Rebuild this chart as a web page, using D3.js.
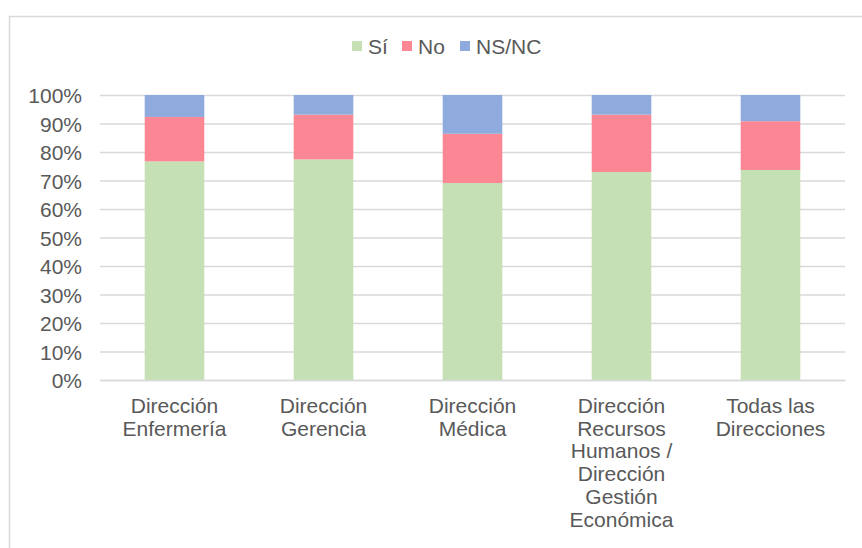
<!DOCTYPE html>
<html><head><meta charset="utf-8">
<script src="https://cdn.jsdelivr.net/npm/d3@7"></script>
<style>
body{margin:0;background:#fff;}
text{font-family:"Liberation Sans",Arial,sans-serif;fill:#595959;}
</style></head>
<body><svg id="c" width="862" height="548"></svg>
<script>
const categories = [
  ["Dirección","Enfermería"],
  ["Dirección","Gerencia"],
  ["Dirección","Médica"],
  ["Dirección","Recursos","Humanos /","Dirección","Gestión","Económica"],
  ["Todas las","Direcciones"]
];
const seriesNames = ["Sí","No","NS/NC"];
const si   = [76.7, 77.4, 69.1, 73.0, 73.7];
const no   = [15.6, 15.7, 17.3, 20.1, 17.1];
const nsnc = [7.7, 6.9, 13.6, 6.9, 9.2];
const yTicks = [0,10,20,30,40,50,60,70,80,90,100];
const colors = ["#C5E0B4","#FA8793","#8FAADC"];

(function(){
const svg = d3.select("#c");
const FS = "21px";
svg.append("rect").attr("x",9.5).attr("y",16.5).attr("width",870).attr("height",560)
  .attr("fill","none").attr("stroke","#D9D9D9").attr("stroke-width",1.5);

const mL=100, mR=845, mT=95, mB=380;
const x = d3.scaleBand().domain(d3.range(categories.length)).range([mL,mR]).paddingInner(0.6).paddingOuter(0.3);
const y = d3.scaleLinear().domain([0,100]).range([mB,mT]);

const yAxis = d3.axisLeft(y).tickValues(yTicks).tickFormat(d=>d+"%").tickSize(-(mR-mL)).tickPadding(18);
const gy = svg.append("g").attr("transform",`translate(${mL},0)`).call(yAxis);
gy.select(".domain").remove();
gy.selectAll(".tick line").attr("stroke","#D9D9D9").attr("stroke-width",1.3);
gy.selectAll(".tick text").attr("font-size",FS).attr("font-family","Liberation Sans, Arial, sans-serif").attr("fill","#595959").attr("dy","0.38em");

const data = categories.map((c,i)=>({i, "Sí":si[i], "No":no[i], "NS/NC":nsnc[i]}));
const stack = d3.stack().keys(seriesNames)(data);
svg.append("g").selectAll("g").data(stack).join("g").attr("fill",(d,k)=>colors[k])
  .selectAll("rect").data(d=>d).join("rect")
  .attr("x",d=>x(d.data.i)).attr("width",x.bandwidth())
  .attr("y",d=>y(d[1])).attr("height",d=>y(d[0])-y(d[1]));

const xAxis = d3.axisBottom(x).tickSize(0).tickFormat("");
const gx = svg.append("g").attr("transform",`translate(0,${mB})`).call(xAxis);
gx.select(".domain").attr("stroke","#D9D9D9").attr("stroke-width",1.3);
gx.selectAll(".tick").each(function(d){
  const t = d3.select(this).append("text").attr("text-anchor","middle").attr("font-size",FS);
  categories[d].forEach((line,j)=>{
    t.append("tspan").attr("x",0).attr("y",33+j*22.7).text(line);
  });
});

const leg = svg.append("g");
const legX = [352, 402, 460];
seriesNames.forEach((n,k)=>{
  leg.append("rect").attr("x",legX[k]).attr("y",41).attr("width",10).attr("height",10).attr("fill",colors[k]);
  leg.append("text").attr("x",legX[k]+16).attr("y",53.5).attr("font-size",FS).text(n);
});
})();
</script></body></html>
